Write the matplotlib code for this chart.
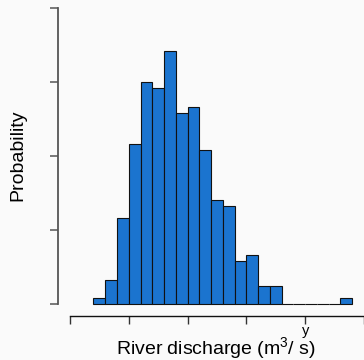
import matplotlib
matplotlib.use("Agg")
import matplotlib.pyplot as plt
import numpy as np

plt.rcParams['font.family'] = ['Liberation Sans', 'DejaVu Sans']
plt.rcParams['mathtext.fontset'] = 'custom'
plt.rcParams['mathtext.rm'] = 'Liberation Sans'
plt.rcParams['mathtext.it'] = 'Liberation Sans:italic'

# histogram counts per bin (bin width 1, first bin starts at 2)
counts = [1, 4, 14, 26, 36, 35, 41, 31, 32, 25, 17, 16, 7, 8, 3, 3, 0, 0, 0, 0, 0, 1]
bin_start = 2
bin_width = 1
x_ticks = [0, 5, 10, 15, 20, 25]
y_ticks = [0, 0.04, 0.08, 0.12, 0.16]

counts = np.array(counts)
lefts = bin_start + bin_width * np.arange(len(counts))
density = counts / (counts.sum() * bin_width)

W, H = 364, 360
fig = plt.figure(figsize=(W / 100, H / 100), dpi=100, facecolor='#fafafa')
ax = fig.add_axes([58 / W, 1 - 316 / H, 306 / W, (316 - 8.3) / H])
ax.set_facecolor('#fafafa')

ax.bar(lefts, density, width=bin_width, align='edge', color='#1b74cf',
       edgecolor='#111111', linewidth=0.8)

ax.set_xlim(-1.017, 24.915)
ax.set_ylim(-0.00627, 0.16)

for s in ['top', 'right']:
    ax.spines[s].set_visible(False)
ax.spines['left'].set_bounds(0, 0.16)
ax.spines['left'].set_color('#555555')
ax.spines['left'].set_linewidth(1.3)
ax.spines['bottom'].set_bounds(0, 25)
ax.spines['bottom'].set_color('#111111')
ax.spines['bottom'].set_linewidth(1.0)

ax.set_xticks(x_ticks)
ax.set_yticks(y_ticks)
ax.set_xticklabels([])
ax.set_yticklabels([])
ax.tick_params(axis='y', length=5.8, width=1.1, color='#555555', direction='out')
ax.tick_params(axis='x', length=5.8, width=1.0, color='#333333', direction='out')

fig.text(18 / W, 1 - 155 / H, 'Probability', rotation=90, ha='center', va='center',
         fontsize=14)
fig.text(216 / W, 1 - 354 / H, r'River discharge (m$^{3}$/ s)', ha='center',
         va='baseline', fontsize=14)
fig.text(305.7 / W, 1 - 334.5 / H, 'y', ha='center', va='baseline', fontsize=10.5)

fig.savefig('out.png', dpi=100, facecolor=fig.get_facecolor())
